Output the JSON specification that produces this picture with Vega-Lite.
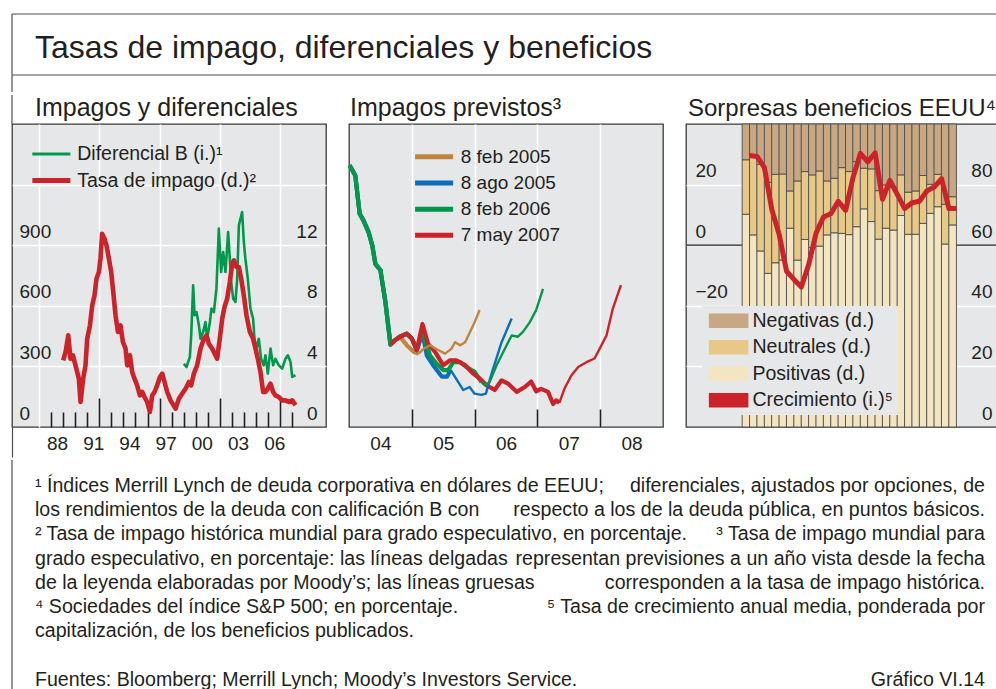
{
  "$schema": "https://vega.github.io/schema/vega-lite/v6.json",
  "padding": {"left": 10, "top": 13, "right": 0, "bottom": 0},
  "background": "white",
  "spacing": 0,
  "resolve": {"scale": {"color": "independent"}, "legend": {"color": "independent"}},
  "config": {
    "font": "Liberation Sans",
    "view": {"stroke": null},
    "axis": {"labelFont": "Liberation Sans", "labelColor": "#231f20", "labelFontSize": 19, "labelFlush": false, "labelOverlap": false, "labelBound": false},
    "legend": {"labelFont": "Liberation Sans", "labelColor": "#231f20", "labelFontSize": 19.5, "labelLimit": 400},
    "title": {"font": "Liberation Sans", "color": "#231f20", "fontWeight": "normal"}
  },
  "datasets": {
    "p1": [
      {"serie": "Diferencial B (i.)¹", "fecha": 1998.51, "valor": 313},
      {"serie": "Diferencial B (i.)¹", "fecha": 1998.73, "valor": 297},
      {"serie": "Diferencial B (i.)¹", "fecha": 1999.01, "valor": 347},
      {"serie": "Diferencial B (i.)¹", "fecha": 1999.12, "valor": 454},
      {"serie": "Diferencial B (i.)¹", "fecha": 1999.28, "valor": 701},
      {"serie": "Diferencial B (i.)¹", "fecha": 1999.40, "valor": 553},
      {"serie": "Diferencial B (i.)¹", "fecha": 1999.56, "valor": 569},
      {"serie": "Diferencial B (i.)¹", "fecha": 1999.76, "valor": 503},
      {"serie": "Diferencial B (i.)¹", "fecha": 1999.89, "valor": 437},
      {"serie": "Diferencial B (i.)¹", "fecha": 2000.11, "valor": 470},
      {"serie": "Diferencial B (i.)¹", "fecha": 2000.30, "valor": 520},
      {"serie": "Diferencial B (i.)¹", "fecha": 2000.44, "valor": 437},
      {"serie": "Diferencial B (i.)¹", "fecha": 2000.67, "valor": 520},
      {"serie": "Diferencial B (i.)¹", "fecha": 2000.80, "valor": 586},
      {"serie": "Diferencial B (i.)¹", "fecha": 2001.00, "valor": 569},
      {"serie": "Diferencial B (i.)¹", "fecha": 2001.21, "valor": 685},
      {"serie": "Diferencial B (i.)¹", "fecha": 2001.41, "valor": 982},
      {"serie": "Diferencial B (i.)¹", "fecha": 2001.60, "valor": 767},
      {"serie": "Diferencial B (i.)¹", "fecha": 2001.77, "valor": 866},
      {"serie": "Diferencial B (i.)¹", "fecha": 2001.96, "valor": 767},
      {"serie": "Diferencial B (i.)¹", "fecha": 2002.18, "valor": 965},
      {"serie": "Diferencial B (i.)¹", "fecha": 2002.32, "valor": 833},
      {"serie": "Diferencial B (i.)¹", "fecha": 2002.43, "valor": 718},
      {"serie": "Diferencial B (i.)¹", "fecha": 2002.60, "valor": 635},
      {"serie": "Diferencial B (i.)¹", "fecha": 2002.79, "valor": 619},
      {"serie": "Diferencial B (i.)¹", "fecha": 2002.93, "valor": 734},
      {"serie": "Diferencial B (i.)¹", "fecha": 2003.07, "valor": 998},
      {"serie": "Diferencial B (i.)¹", "fecha": 2003.20, "valor": 1031},
      {"serie": "Diferencial B (i.)¹", "fecha": 2003.34, "valor": 1064},
      {"serie": "Diferencial B (i.)¹", "fecha": 2003.48, "valor": 916},
      {"serie": "Diferencial B (i.)¹", "fecha": 2003.61, "valor": 833},
      {"serie": "Diferencial B (i.)¹", "fecha": 2003.81, "valor": 734},
      {"serie": "Diferencial B (i.)¹", "fecha": 2004.03, "valor": 586},
      {"serie": "Diferencial B (i.)¹", "fecha": 2004.25, "valor": 536},
      {"serie": "Diferencial B (i.)¹", "fecha": 2004.36, "valor": 437},
      {"serie": "Diferencial B (i.)¹", "fecha": 2004.52, "valor": 388},
      {"serie": "Diferencial B (i.)¹", "fecha": 2004.72, "valor": 437},
      {"serie": "Diferencial B (i.)¹", "fecha": 2004.91, "valor": 338},
      {"serie": "Diferencial B (i.)¹", "fecha": 2005.13, "valor": 305},
      {"serie": "Diferencial B (i.)¹", "fecha": 2005.27, "valor": 355},
      {"serie": "Diferencial B (i.)¹", "fecha": 2005.47, "valor": 264},
      {"serie": "Diferencial B (i.)¹", "fecha": 2005.69, "valor": 388},
      {"serie": "Diferencial B (i.)¹", "fecha": 2005.91, "valor": 305},
      {"serie": "Diferencial B (i.)¹", "fecha": 2006.10, "valor": 338},
      {"serie": "Diferencial B (i.)¹", "fecha": 2006.38, "valor": 305},
      {"serie": "Diferencial B (i.)¹", "fecha": 2006.66, "valor": 289},
      {"serie": "Diferencial B (i.)¹", "fecha": 2006.93, "valor": 338},
      {"serie": "Diferencial B (i.)¹", "fecha": 2007.13, "valor": 355},
      {"serie": "Diferencial B (i.)¹", "fecha": 2007.35, "valor": 322},
      {"serie": "Diferencial B (i.)¹", "fecha": 2007.49, "valor": 248},
      {"serie": "Diferencial B (i.)¹", "fecha": 2007.76, "valor": 256},
      {"serie": "Tasa de impago (d.)²", "fecha": 1988.51, "valor": 4.40},
      {"serie": "Tasa de impago (d.)²", "fecha": 1988.71, "valor": 4.95},
      {"serie": "Tasa de impago (d.)²", "fecha": 1988.93, "valor": 6.05},
      {"serie": "Tasa de impago (d.)²", "fecha": 1989.12, "valor": 4.51},
      {"serie": "Tasa de impago (d.)²", "fecha": 1989.32, "valor": 4.73},
      {"serie": "Tasa de impago (d.)²", "fecha": 1989.53, "valor": 4.07},
      {"serie": "Tasa de impago (d.)²", "fecha": 1989.81, "valor": 3.19},
      {"serie": "Tasa de impago (d.)²", "fecha": 1989.95, "valor": 1.65},
      {"serie": "Tasa de impago (d.)²", "fecha": 1990.17, "valor": 3.19},
      {"serie": "Tasa de impago (d.)²", "fecha": 1990.36, "valor": 4.07},
      {"serie": "Tasa de impago (d.)²", "fecha": 1990.50, "valor": 5.83},
      {"serie": "Tasa de impago (d.)²", "fecha": 1990.73, "valor": 6.71},
      {"serie": "Tasa de impago (d.)²", "fecha": 1990.92, "valor": 8.03},
      {"serie": "Tasa de impago (d.)²", "fecha": 1991.11, "valor": 8.69},
      {"serie": "Tasa de impago (d.)²", "fecha": 1991.27, "valor": 9.79},
      {"serie": "Tasa de impago (d.)²", "fecha": 1991.47, "valor": 10.23},
      {"serie": "Tasa de impago (d.)²", "fecha": 1991.60, "valor": 11.11},
      {"serie": "Tasa de impago (d.)²", "fecha": 1991.74, "valor": 12.76},
      {"serie": "Tasa de impago (d.)²", "fecha": 1991.93, "valor": 12.43},
      {"serie": "Tasa de impago (d.)²", "fecha": 1992.10, "valor": 11.99},
      {"serie": "Tasa de impago (d.)²", "fecha": 1992.30, "valor": 11.11},
      {"serie": "Tasa de impago (d.)²", "fecha": 1992.49, "valor": 10.23},
      {"serie": "Tasa de impago (d.)²", "fecha": 1992.66, "valor": 8.91},
      {"serie": "Tasa de impago (d.)²", "fecha": 1992.85, "valor": 7.37},
      {"serie": "Tasa de impago (d.)²", "fecha": 1993.05, "valor": 6.27},
      {"serie": "Tasa de impago (d.)²", "fecha": 1993.26, "valor": 6.71},
      {"serie": "Tasa de impago (d.)²", "fecha": 1993.46, "valor": 5.61},
      {"serie": "Tasa de impago (d.)²", "fecha": 1993.68, "valor": 5.17},
      {"serie": "Tasa de impago (d.)²", "fecha": 1993.82, "valor": 4.07},
      {"serie": "Tasa de impago (d.)²", "fecha": 1994.04, "valor": 4.73},
      {"serie": "Tasa de impago (d.)²", "fecha": 1994.23, "valor": 3.63},
      {"serie": "Tasa de impago (d.)²", "fecha": 1994.42, "valor": 3.19},
      {"serie": "Tasa de impago (d.)²", "fecha": 1994.64, "valor": 2.75},
      {"serie": "Tasa de impago (d.)²", "fecha": 1994.87, "valor": 2.09},
      {"serie": "Tasa de impago (d.)²", "fecha": 1995.06, "valor": 2.31},
      {"serie": "Tasa de impago (d.)²", "fecha": 1995.25, "valor": 1.98},
      {"serie": "Tasa de impago (d.)²", "fecha": 1995.47, "valor": 1.65},
      {"serie": "Tasa de impago (d.)²", "fecha": 1995.70, "valor": 0.99},
      {"serie": "Tasa de impago (d.)²", "fecha": 1995.89, "valor": 2.09},
      {"serie": "Tasa de impago (d.)²", "fecha": 1996.08, "valor": 2.31},
      {"serie": "Tasa de impago (d.)²", "fecha": 1996.30, "valor": 2.75},
      {"serie": "Tasa de impago (d.)²", "fecha": 1996.53, "valor": 3.30},
      {"serie": "Tasa de impago (d.)²", "fecha": 1996.72, "valor": 3.52},
      {"serie": "Tasa de impago (d.)²", "fecha": 1996.91, "valor": 2.97},
      {"serie": "Tasa de impago (d.)²", "fecha": 1997.13, "valor": 2.31},
      {"serie": "Tasa de impago (d.)²", "fecha": 1997.41, "valor": 1.76},
      {"serie": "Tasa de impago (d.)²", "fecha": 1997.82, "valor": 1.21},
      {"serie": "Tasa de impago (d.)²", "fecha": 1998.10, "valor": 1.87},
      {"serie": "Tasa de impago (d.)²", "fecha": 1998.37, "valor": 2.20},
      {"serie": "Tasa de impago (d.)²", "fecha": 1998.65, "valor": 2.53},
      {"serie": "Tasa de impago (d.)²", "fecha": 1998.93, "valor": 2.97},
      {"serie": "Tasa de impago (d.)²", "fecha": 1999.12, "valor": 2.75},
      {"serie": "Tasa de impago (d.)²", "fecha": 1999.34, "valor": 3.52},
      {"serie": "Tasa de impago (d.)²", "fecha": 1999.61, "valor": 4.07},
      {"serie": "Tasa de impago (d.)²", "fecha": 1999.89, "valor": 5.17},
      {"serie": "Tasa de impago (d.)²", "fecha": 2000.17, "valor": 5.83},
      {"serie": "Tasa de impago (d.)²", "fecha": 2000.39, "valor": 6.05},
      {"serie": "Tasa de impago (d.)²", "fecha": 2000.58, "valor": 5.50},
      {"serie": "Tasa de impago (d.)²", "fecha": 2000.86, "valor": 5.17},
      {"serie": "Tasa de impago (d.)²", "fecha": 2001.13, "valor": 4.73},
      {"serie": "Tasa de impago (d.)²", "fecha": 2001.27, "valor": 4.51},
      {"serie": "Tasa de impago (d.)²", "fecha": 2001.49, "valor": 5.83},
      {"serie": "Tasa de impago (d.)²", "fecha": 2001.69, "valor": 7.15},
      {"serie": "Tasa de impago (d.)²", "fecha": 2001.88, "valor": 7.92},
      {"serie": "Tasa de impago (d.)²", "fecha": 2002.10, "valor": 8.47},
      {"serie": "Tasa de impago (d.)²", "fecha": 2002.32, "valor": 9.57},
      {"serie": "Tasa de impago (d.)²", "fecha": 2002.51, "valor": 10.78},
      {"serie": "Tasa de impago (d.)²", "fecha": 2002.66, "valor": 11.0},
      {"serie": "Tasa de impago (d.)²", "fecha": 2002.87, "valor": 10.56},
      {"serie": "Tasa de impago (d.)²", "fecha": 2003.07, "valor": 10.56},
      {"serie": "Tasa de impago (d.)²", "fecha": 2003.26, "valor": 9.79},
      {"serie": "Tasa de impago (d.)²", "fecha": 2003.48, "valor": 8.69},
      {"serie": "Tasa de impago (d.)²", "fecha": 2003.70, "valor": 7.37},
      {"serie": "Tasa de impago (d.)²", "fecha": 2003.98, "valor": 6.27},
      {"serie": "Tasa de impago (d.)²", "fecha": 2004.25, "valor": 5.83},
      {"serie": "Tasa de impago (d.)²", "fecha": 2004.45, "valor": 5.17},
      {"serie": "Tasa de impago (d.)²", "fecha": 2004.64, "valor": 4.51},
      {"serie": "Tasa de impago (d.)²", "fecha": 2004.86, "valor": 3.63},
      {"serie": "Tasa de impago (d.)²", "fecha": 2005.08, "valor": 2.31},
      {"serie": "Tasa de impago (d.)²", "fecha": 2005.27, "valor": 2.31},
      {"serie": "Tasa de impago (d.)²", "fecha": 2005.47, "valor": 2.53},
      {"serie": "Tasa de impago (d.)²", "fecha": 2005.69, "valor": 2.86},
      {"serie": "Tasa de impago (d.)²", "fecha": 2005.91, "valor": 2.31},
      {"serie": "Tasa de impago (d.)²", "fecha": 2006.10, "valor": 2.09},
      {"serie": "Tasa de impago (d.)²", "fecha": 2006.38, "valor": 1.98},
      {"serie": "Tasa de impago (d.)²", "fecha": 2006.66, "valor": 1.76},
      {"serie": "Tasa de impago (d.)²", "fecha": 2006.93, "valor": 1.76},
      {"serie": "Tasa de impago (d.)²", "fecha": 2007.21, "valor": 1.65},
      {"serie": "Tasa de impago (d.)²", "fecha": 2007.49, "valor": 1.76},
      {"serie": "Tasa de impago (d.)²", "fecha": 2007.76, "valor": 1.43}
    ],
    "p2": [
      {"serie": "8 feb 2005", "tramo": "histórico", "fecha": 2004.01, "valor": 5.32},
      {"serie": "8 feb 2005", "tramo": "histórico", "fecha": 2004.10, "valor": 5.15},
      {"serie": "8 feb 2005", "tramo": "histórico", "fecha": 2004.17, "valor": 4.52},
      {"serie": "8 feb 2005", "tramo": "histórico", "fecha": 2004.23, "valor": 4.41},
      {"serie": "8 feb 2005", "tramo": "histórico", "fecha": 2004.31, "valor": 4.22},
      {"serie": "8 feb 2005", "tramo": "histórico", "fecha": 2004.37, "valor": 4.00},
      {"serie": "8 feb 2005", "tramo": "histórico", "fecha": 2004.42, "valor": 3.69},
      {"serie": "8 feb 2005", "tramo": "histórico", "fecha": 2004.50, "valor": 3.59},
      {"serie": "8 feb 2005", "tramo": "histórico", "fecha": 2004.58, "valor": 3.06},
      {"serie": "8 feb 2005", "tramo": "histórico", "fecha": 2004.66, "valor": 2.36},
      {"serie": "8 feb 2005", "tramo": "histórico", "fecha": 2004.73, "valor": 2.43},
      {"serie": "8 feb 2005", "tramo": "histórico", "fecha": 2004.81, "valor": 2.49},
      {"serie": "8 feb 2005", "tramo": "histórico", "fecha": 2004.92, "valor": 2.35},
      {"serie": "8 feb 2005", "tramo": "histórico", "fecha": 2005.03, "valor": 2.24},
      {"serie": "8 feb 2005", "tramo": "histórico", "fecha": 2005.11, "valor": 2.21},
      {"serie": "8 feb 2005", "tramo": "previsión", "fecha": 2005.11, "valor": 2.21},
      {"serie": "8 feb 2005", "tramo": "previsión", "fecha": 2005.20, "valor": 2.30},
      {"serie": "8 feb 2005", "tramo": "previsión", "fecha": 2005.29, "valor": 2.35},
      {"serie": "8 feb 2005", "tramo": "previsión", "fecha": 2005.42, "valor": 2.27},
      {"serie": "8 feb 2005", "tramo": "previsión", "fecha": 2005.53, "valor": 2.21},
      {"serie": "8 feb 2005", "tramo": "previsión", "fecha": 2005.63, "valor": 2.29},
      {"serie": "8 feb 2005", "tramo": "previsión", "fecha": 2005.69, "valor": 2.40},
      {"serie": "8 feb 2005", "tramo": "previsión", "fecha": 2005.77, "valor": 2.35},
      {"serie": "8 feb 2005", "tramo": "previsión", "fecha": 2005.85, "valor": 2.40},
      {"serie": "8 feb 2005", "tramo": "previsión", "fecha": 2005.90, "valor": 2.51},
      {"serie": "8 feb 2005", "tramo": "previsión", "fecha": 2006.00, "valor": 2.73},
      {"serie": "8 feb 2005", "tramo": "previsión", "fecha": 2006.08, "valor": 2.93},
      {"serie": "8 ago 2005", "tramo": "histórico", "fecha": 2004.01, "valor": 5.32},
      {"serie": "8 ago 2005", "tramo": "histórico", "fecha": 2004.10, "valor": 5.15},
      {"serie": "8 ago 2005", "tramo": "histórico", "fecha": 2004.17, "valor": 4.52},
      {"serie": "8 ago 2005", "tramo": "histórico", "fecha": 2004.23, "valor": 4.41},
      {"serie": "8 ago 2005", "tramo": "histórico", "fecha": 2004.31, "valor": 4.22},
      {"serie": "8 ago 2005", "tramo": "histórico", "fecha": 2004.37, "valor": 4.00},
      {"serie": "8 ago 2005", "tramo": "histórico", "fecha": 2004.42, "valor": 3.69},
      {"serie": "8 ago 2005", "tramo": "histórico", "fecha": 2004.50, "valor": 3.59},
      {"serie": "8 ago 2005", "tramo": "histórico", "fecha": 2004.58, "valor": 3.06},
      {"serie": "8 ago 2005", "tramo": "histórico", "fecha": 2004.66, "valor": 2.36},
      {"serie": "8 ago 2005", "tramo": "histórico", "fecha": 2004.73, "valor": 2.43},
      {"serie": "8 ago 2005", "tramo": "histórico", "fecha": 2004.81, "valor": 2.49},
      {"serie": "8 ago 2005", "tramo": "histórico", "fecha": 2004.92, "valor": 2.54},
      {"serie": "8 ago 2005", "tramo": "histórico", "fecha": 2005.00, "valor": 2.46},
      {"serie": "8 ago 2005", "tramo": "histórico", "fecha": 2005.08, "valor": 2.27},
      {"serie": "8 ago 2005", "tramo": "histórico", "fecha": 2005.17, "valor": 2.55},
      {"serie": "8 ago 2005", "tramo": "histórico", "fecha": 2005.24, "valor": 2.18},
      {"serie": "8 ago 2005", "tramo": "histórico", "fecha": 2005.34, "valor": 2.02},
      {"serie": "8 ago 2005", "tramo": "histórico", "fecha": 2005.48, "valor": 1.83},
      {"serie": "8 ago 2005", "tramo": "histórico", "fecha": 2005.56, "valor": 1.83},
      {"serie": "8 ago 2005", "tramo": "histórico", "fecha": 2005.62, "valor": 1.94},
      {"serie": "8 ago 2005", "tramo": "previsión", "fecha": 2005.62, "valor": 1.94},
      {"serie": "8 ago 2005", "tramo": "previsión", "fecha": 2005.74, "valor": 1.74},
      {"serie": "8 ago 2005", "tramo": "previsión", "fecha": 2005.82, "valor": 1.61},
      {"serie": "8 ago 2005", "tramo": "previsión", "fecha": 2005.92, "valor": 1.66},
      {"serie": "8 ago 2005", "tramo": "previsión", "fecha": 2006.00, "valor": 1.55},
      {"serie": "8 ago 2005", "tramo": "previsión", "fecha": 2006.11, "valor": 1.53},
      {"serie": "8 ago 2005", "tramo": "previsión", "fecha": 2006.18, "valor": 1.55},
      {"serie": "8 ago 2005", "tramo": "previsión", "fecha": 2006.27, "valor": 1.88},
      {"serie": "8 ago 2005", "tramo": "previsión", "fecha": 2006.43, "valor": 2.40},
      {"serie": "8 ago 2005", "tramo": "previsión", "fecha": 2006.59, "valor": 2.79},
      {"serie": "8 feb 2006", "tramo": "histórico", "fecha": 2004.01, "valor": 5.32},
      {"serie": "8 feb 2006", "tramo": "histórico", "fecha": 2004.10, "valor": 5.15},
      {"serie": "8 feb 2006", "tramo": "histórico", "fecha": 2004.17, "valor": 4.52},
      {"serie": "8 feb 2006", "tramo": "histórico", "fecha": 2004.23, "valor": 4.41},
      {"serie": "8 feb 2006", "tramo": "histórico", "fecha": 2004.31, "valor": 4.22},
      {"serie": "8 feb 2006", "tramo": "histórico", "fecha": 2004.37, "valor": 4.00},
      {"serie": "8 feb 2006", "tramo": "histórico", "fecha": 2004.42, "valor": 3.69},
      {"serie": "8 feb 2006", "tramo": "histórico", "fecha": 2004.50, "valor": 3.59},
      {"serie": "8 feb 2006", "tramo": "histórico", "fecha": 2004.58, "valor": 3.06},
      {"serie": "8 feb 2006", "tramo": "histórico", "fecha": 2004.66, "valor": 2.36},
      {"serie": "8 feb 2006", "tramo": "histórico", "fecha": 2004.73, "valor": 2.43},
      {"serie": "8 feb 2006", "tramo": "histórico", "fecha": 2004.81, "valor": 2.49},
      {"serie": "8 feb 2006", "tramo": "histórico", "fecha": 2004.92, "valor": 2.54},
      {"serie": "8 feb 2006", "tramo": "histórico", "fecha": 2005.00, "valor": 2.46},
      {"serie": "8 feb 2006", "tramo": "histórico", "fecha": 2005.08, "valor": 2.27},
      {"serie": "8 feb 2006", "tramo": "histórico", "fecha": 2005.17, "valor": 2.57},
      {"serie": "8 feb 2006", "tramo": "histórico", "fecha": 2005.29, "valor": 2.18},
      {"serie": "8 feb 2006", "tramo": "histórico", "fecha": 2005.40, "valor": 2.04},
      {"serie": "8 feb 2006", "tramo": "histórico", "fecha": 2005.50, "valor": 1.94},
      {"serie": "8 feb 2006", "tramo": "histórico", "fecha": 2005.58, "valor": 1.94},
      {"serie": "8 feb 2006", "tramo": "histórico", "fecha": 2005.66, "valor": 2.07},
      {"serie": "8 feb 2006", "tramo": "histórico", "fecha": 2005.77, "valor": 2.07},
      {"serie": "8 feb 2006", "tramo": "histórico", "fecha": 2005.87, "valor": 1.99},
      {"serie": "8 feb 2006", "tramo": "histórico", "fecha": 2006.00, "valor": 1.91},
      {"serie": "8 feb 2006", "tramo": "histórico", "fecha": 2006.11, "valor": 1.74},
      {"serie": "8 feb 2006", "tramo": "previsión", "fecha": 2006.11, "valor": 1.74},
      {"serie": "8 feb 2006", "tramo": "previsión", "fecha": 2006.16, "valor": 1.69},
      {"serie": "8 feb 2006", "tramo": "previsión", "fecha": 2006.24, "valor": 1.74},
      {"serie": "8 feb 2006", "tramo": "previsión", "fecha": 2006.35, "valor": 2.02},
      {"serie": "8 feb 2006", "tramo": "previsión", "fecha": 2006.51, "valor": 2.35},
      {"serie": "8 feb 2006", "tramo": "previsión", "fecha": 2006.59, "valor": 2.51},
      {"serie": "8 feb 2006", "tramo": "previsión", "fecha": 2006.69, "valor": 2.49},
      {"serie": "8 feb 2006", "tramo": "previsión", "fecha": 2006.77, "valor": 2.57},
      {"serie": "8 feb 2006", "tramo": "previsión", "fecha": 2006.88, "valor": 2.73},
      {"serie": "8 feb 2006", "tramo": "previsión", "fecha": 2006.98, "valor": 2.93},
      {"serie": "8 feb 2006", "tramo": "previsión", "fecha": 2007.09, "valor": 3.28},
      {"serie": "7 may 2007", "tramo": "histórico", "fecha": 2004.66, "valor": 2.36},
      {"serie": "7 may 2007", "tramo": "histórico", "fecha": 2004.73, "valor": 2.43},
      {"serie": "7 may 2007", "tramo": "histórico", "fecha": 2004.81, "valor": 2.49},
      {"serie": "7 may 2007", "tramo": "histórico", "fecha": 2004.92, "valor": 2.54},
      {"serie": "7 may 2007", "tramo": "histórico", "fecha": 2005.00, "valor": 2.46},
      {"serie": "7 may 2007", "tramo": "histórico", "fecha": 2005.08, "valor": 2.27},
      {"serie": "7 may 2007", "tramo": "histórico", "fecha": 2005.17, "valor": 2.70},
      {"serie": "7 may 2007", "tramo": "histórico", "fecha": 2005.26, "valor": 2.37},
      {"serie": "7 may 2007", "tramo": "histórico", "fecha": 2005.37, "valor": 2.24},
      {"serie": "7 may 2007", "tramo": "histórico", "fecha": 2005.50, "valor": 2.02},
      {"serie": "7 may 2007", "tramo": "histórico", "fecha": 2005.61, "valor": 2.10},
      {"serie": "7 may 2007", "tramo": "histórico", "fecha": 2005.71, "valor": 2.10},
      {"serie": "7 may 2007", "tramo": "histórico", "fecha": 2005.85, "valor": 2.02},
      {"serie": "7 may 2007", "tramo": "histórico", "fecha": 2005.98, "valor": 1.88},
      {"serie": "7 may 2007", "tramo": "histórico", "fecha": 2006.08, "valor": 1.80},
      {"serie": "7 may 2007", "tramo": "histórico", "fecha": 2006.19, "valor": 1.69},
      {"serie": "7 may 2007", "tramo": "histórico", "fecha": 2006.32, "valor": 1.61},
      {"serie": "7 may 2007", "tramo": "histórico", "fecha": 2006.43, "valor": 1.77},
      {"serie": "7 may 2007", "tramo": "histórico", "fecha": 2006.54, "valor": 1.71},
      {"serie": "7 may 2007", "tramo": "histórico", "fecha": 2006.67, "valor": 1.58},
      {"serie": "7 may 2007", "tramo": "histórico", "fecha": 2006.80, "valor": 1.66},
      {"serie": "7 may 2007", "tramo": "histórico", "fecha": 2006.90, "valor": 1.75},
      {"serie": "7 may 2007", "tramo": "histórico", "fecha": 2006.98, "valor": 1.59},
      {"serie": "7 may 2007", "tramo": "histórico", "fecha": 2007.06, "valor": 1.63},
      {"serie": "7 may 2007", "tramo": "histórico", "fecha": 2007.17, "valor": 1.58},
      {"serie": "7 may 2007", "tramo": "histórico", "fecha": 2007.25, "valor": 1.38},
      {"serie": "7 may 2007", "tramo": "histórico", "fecha": 2007.30, "valor": 1.44},
      {"serie": "7 may 2007", "tramo": "histórico", "fecha": 2007.35, "valor": 1.40},
      {"serie": "7 may 2007", "tramo": "previsión", "fecha": 2007.35, "valor": 1.40},
      {"serie": "7 may 2007", "tramo": "previsión", "fecha": 2007.43, "valor": 1.63},
      {"serie": "7 may 2007", "tramo": "previsión", "fecha": 2007.54, "valor": 1.85},
      {"serie": "7 may 2007", "tramo": "previsión", "fecha": 2007.65, "valor": 1.99},
      {"serie": "7 may 2007", "tramo": "previsión", "fecha": 2007.78, "valor": 2.07},
      {"serie": "7 may 2007", "tramo": "previsión", "fecha": 2007.91, "valor": 2.13},
      {"serie": "7 may 2007", "tramo": "previsión", "fecha": 2007.99, "valor": 2.29},
      {"serie": "7 may 2007", "tramo": "previsión", "fecha": 2008.10, "valor": 2.51},
      {"serie": "7 may 2007", "tramo": "previsión", "fecha": 2008.20, "valor": 2.95},
      {"serie": "7 may 2007", "tramo": "previsión", "fecha": 2008.33, "valor": 3.34}
    ],
    "p3b": [
      {"t": 2000.125, "serie": "Positivas (d.)", "valor": 70.2}, {"t": 2000.125, "serie": "Neutrales (d.)", "valor": 18.0}, {"t": 2000.125, "serie": "Negativas (d.)", "valor": 11.8},
      {"t": 2000.375, "serie": "Positivas (d.)", "valor": 63.4}, {"t": 2000.375, "serie": "Neutrales (d.)", "valor": 25.9}, {"t": 2000.375, "serie": "Negativas (d.)", "valor": 10.7},
      {"t": 2000.625, "serie": "Positivas (d.)", "valor": 58.1}, {"t": 2000.625, "serie": "Neutrales (d.)", "valor": 28.6}, {"t": 2000.625, "serie": "Negativas (d.)", "valor": 13.3},
      {"t": 2000.875, "serie": "Positivas (d.)", "valor": 50.7}, {"t": 2000.875, "serie": "Neutrales (d.)", "valor": 30.0}, {"t": 2000.875, "serie": "Negativas (d.)", "valor": 19.3},
      {"t": 2001.125, "serie": "Positivas (d.)", "valor": 54.2}, {"t": 2001.125, "serie": "Neutrales (d.)", "valor": 29.2}, {"t": 2001.125, "serie": "Negativas (d.)", "valor": 16.6},
      {"t": 2001.375, "serie": "Positivas (d.)", "valor": 55.1}, {"t": 2001.375, "serie": "Neutrales (d.)", "valor": 28.4}, {"t": 2001.375, "serie": "Negativas (d.)", "valor": 16.5},
      {"t": 2001.625, "serie": "Positivas (d.)", "valor": 65.6}, {"t": 2001.625, "serie": "Neutrales (d.)", "valor": 12.3}, {"t": 2001.625, "serie": "Negativas (d.)", "valor": 22.1},
      {"t": 2001.875, "serie": "Positivas (d.)", "valor": 55.1}, {"t": 2001.875, "serie": "Neutrales (d.)", "valor": 26.1}, {"t": 2001.875, "serie": "Negativas (d.)", "valor": 18.8},
      {"t": 2002.125, "serie": "Positivas (d.)", "valor": 61.9}, {"t": 2002.125, "serie": "Neutrales (d.)", "valor": 22.4}, {"t": 2002.125, "serie": "Negativas (d.)", "valor": 15.7},
      {"t": 2002.375, "serie": "Positivas (d.)", "valor": 59.2}, {"t": 2002.375, "serie": "Neutrales (d.)", "valor": 24.0}, {"t": 2002.375, "serie": "Negativas (d.)", "valor": 16.8},
      {"t": 2002.625, "serie": "Positivas (d.)", "valor": 59.7}, {"t": 2002.625, "serie": "Neutrales (d.)", "valor": 24.8}, {"t": 2002.625, "serie": "Negativas (d.)", "valor": 15.5},
      {"t": 2002.875, "serie": "Positivas (d.)", "valor": 63.4}, {"t": 2002.875, "serie": "Neutrales (d.)", "valor": 17.8}, {"t": 2002.875, "serie": "Negativas (d.)", "valor": 18.8},
      {"t": 2003.125, "serie": "Positivas (d.)", "valor": 64.1}, {"t": 2003.125, "serie": "Neutrales (d.)", "valor": 18.0}, {"t": 2003.125, "serie": "Negativas (d.)", "valor": 17.9},
      {"t": 2003.375, "serie": "Positivas (d.)", "valor": 63.9}, {"t": 2003.375, "serie": "Neutrales (d.)", "valor": 21.7}, {"t": 2003.375, "serie": "Negativas (d.)", "valor": 14.4},
      {"t": 2003.625, "serie": "Positivas (d.)", "valor": 63.5}, {"t": 2003.625, "serie": "Neutrales (d.)", "valor": 20.8}, {"t": 2003.625, "serie": "Negativas (d.)", "valor": 15.7},
      {"t": 2003.875, "serie": "Positivas (d.)", "valor": 66.1}, {"t": 2003.875, "serie": "Neutrales (d.)", "valor": 21.5}, {"t": 2003.875, "serie": "Negativas (d.)", "valor": 12.4},
      {"t": 2004.125, "serie": "Positivas (d.)", "valor": 72.0}, {"t": 2004.125, "serie": "Neutrales (d.)", "valor": 13.4}, {"t": 2004.125, "serie": "Negativas (d.)", "valor": 14.6},
      {"t": 2004.375, "serie": "Positivas (d.)", "valor": 67.8}, {"t": 2004.375, "serie": "Neutrales (d.)", "valor": 17.4}, {"t": 2004.375, "serie": "Negativas (d.)", "valor": 14.8},
      {"t": 2004.625, "serie": "Positivas (d.)", "valor": 62.0}, {"t": 2004.625, "serie": "Neutrales (d.)", "valor": 16.0}, {"t": 2004.625, "serie": "Negativas (d.)", "valor": 22.0},
      {"t": 2004.875, "serie": "Positivas (d.)", "valor": 65.6}, {"t": 2004.875, "serie": "Neutrales (d.)", "valor": 14.3}, {"t": 2004.875, "serie": "Negativas (d.)", "valor": 20.1},
      {"t": 2005.125, "serie": "Positivas (d.)", "valor": 65.0}, {"t": 2005.125, "serie": "Neutrales (d.)", "valor": 14.0}, {"t": 2005.125, "serie": "Negativas (d.)", "valor": 21.0},
      {"t": 2005.375, "serie": "Positivas (d.)", "valor": 69.8}, {"t": 2005.375, "serie": "Neutrales (d.)", "valor": 13.4}, {"t": 2005.375, "serie": "Negativas (d.)", "valor": 16.8},
      {"t": 2005.625, "serie": "Positivas (d.)", "valor": 63.6}, {"t": 2005.625, "serie": "Neutrales (d.)", "valor": 13.9}, {"t": 2005.625, "serie": "Negativas (d.)", "valor": 22.5},
      {"t": 2005.875, "serie": "Positivas (d.)", "valor": 63.6}, {"t": 2005.875, "serie": "Neutrales (d.)", "valor": 14.3}, {"t": 2005.875, "serie": "Negativas (d.)", "valor": 22.1},
      {"t": 2006.125, "serie": "Positivas (d.)", "valor": 67.2}, {"t": 2006.125, "serie": "Neutrales (d.)", "valor": 15.8}, {"t": 2006.125, "serie": "Negativas (d.)", "valor": 17.0},
      {"t": 2006.375, "serie": "Positivas (d.)", "valor": 70.5}, {"t": 2006.375, "serie": "Neutrales (d.)", "valor": 9.6}, {"t": 2006.375, "serie": "Negativas (d.)", "valor": 19.9},
      {"t": 2006.625, "serie": "Positivas (d.)", "valor": 72.7}, {"t": 2006.625, "serie": "Neutrales (d.)", "valor": 10.7}, {"t": 2006.625, "serie": "Negativas (d.)", "valor": 16.6},
      {"t": 2006.875, "serie": "Positivas (d.)", "valor": 60.4}, {"t": 2006.875, "serie": "Neutrales (d.)", "valor": 13.1}, {"t": 2006.875, "serie": "Negativas (d.)", "valor": 26.5},
      {"t": 2007.125, "serie": "Positivas (d.)", "valor": 66.7}, {"t": 2007.125, "serie": "Neutrales (d.)", "valor": 9.3}, {"t": 2007.125, "serie": "Negativas (d.)", "valor": 24.0}
    ],
    "p3l": [
      {"t": 2000.25, "serie": "Crecimiento (i.)⁵", "valor": 29.6},
      {"t": 2000.5, "serie": "Crecimiento (i.)⁵", "valor": 29.3},
      {"t": 2000.75, "serie": "Crecimiento (i.)⁵", "valor": 25.6},
      {"t": 2001.0, "serie": "Crecimiento (i.)⁵", "valor": 11.8},
      {"t": 2001.25, "serie": "Crecimiento (i.)⁵", "valor": 3.5},
      {"t": 2001.5, "serie": "Crecimiento (i.)⁵", "valor": -8.6},
      {"t": 2001.75, "serie": "Crecimiento (i.)⁵", "valor": -11.3},
      {"t": 2002.0, "serie": "Crecimiento (i.)⁵", "valor": -13.8},
      {"t": 2002.25, "serie": "Crecimiento (i.)⁵", "valor": -6.4},
      {"t": 2002.5, "serie": "Crecimiento (i.)⁵", "valor": 4.0},
      {"t": 2002.75, "serie": "Crecimiento (i.)⁵", "valor": 9.3},
      {"t": 2003.0, "serie": "Crecimiento (i.)⁵", "valor": 10.4},
      {"t": 2003.25, "serie": "Crecimiento (i.)⁵", "valor": 14.5},
      {"t": 2003.5, "serie": "Crecimiento (i.)⁵", "valor": 11.5},
      {"t": 2003.75, "serie": "Crecimiento (i.)⁵", "valor": 22.3},
      {"t": 2004.0, "serie": "Crecimiento (i.)⁵", "valor": 30.3},
      {"t": 2004.25, "serie": "Crecimiento (i.)⁵", "valor": 27.5},
      {"t": 2004.5, "serie": "Crecimiento (i.)⁵", "valor": 30.5},
      {"t": 2004.75, "serie": "Crecimiento (i.)⁵", "valor": 15.1},
      {"t": 2005.0, "serie": "Crecimiento (i.)⁵", "valor": 21.4},
      {"t": 2005.25, "serie": "Crecimiento (i.)⁵", "valor": 16.8},
      {"t": 2005.5, "serie": "Crecimiento (i.)⁵", "valor": 12.1},
      {"t": 2005.75, "serie": "Crecimiento (i.)⁵", "valor": 14.0},
      {"t": 2006.0, "serie": "Crecimiento (i.)⁵", "valor": 14.5},
      {"t": 2006.25, "serie": "Crecimiento (i.)⁵", "valor": 17.9},
      {"t": 2006.5, "serie": "Crecimiento (i.)⁵", "valor": 19.2},
      {"t": 2006.75, "serie": "Crecimiento (i.)⁵", "valor": 22.0},
      {"t": 2007.0, "serie": "Crecimiento (i.)⁵", "valor": 12.1},
      {"t": 2007.25, "serie": "Crecimiento (i.)⁵", "valor": 12.1}
    ],
    "notas": [
      {"linea": 1, "parte": "inicio", "texto": "¹ Índices Merrill Lynch de deuda corporativa en dólares de EEUU;"},
      {"linea": 1, "parte": "fin", "texto": "diferenciales, ajustados por opciones, de"},
      {"linea": 2, "parte": "inicio", "texto": "los rendimientos de la deuda con calificación B con"},
      {"linea": 2, "parte": "fin", "texto": "respecto a los de la deuda pública, en puntos básicos."},
      {"linea": 3, "parte": "inicio", "texto": "² Tasa de impago histórica mundial para grado especulativo, en porcentaje."},
      {"linea": 3, "parte": "fin", "texto": "³ Tasa de impago mundial para"},
      {"linea": 4, "parte": "inicio", "texto": "grado especulativo, en porcentaje: las líneas delgadas"},
      {"linea": 4, "parte": "fin", "texto": "representan previsiones a un año vista desde la fecha"},
      {"linea": 5, "parte": "inicio", "texto": "de la leyenda elaboradas por Moody’s; las líneas gruesas"},
      {"linea": 5, "parte": "fin", "texto": "corresponden a la tasa de impago  histórica."},
      {"linea": 6, "parte": "inicio", "texto": "⁴ Sociedades del índice S&P 500; en porcentaje."},
      {"linea": 6, "parte": "fin", "texto": "⁵ Tasa de crecimiento anual media, ponderada por"},
      {"linea": 7, "parte": "inicio", "texto": "capitalización, de los beneficios publicados."},
      {"linea": 9, "parte": "inicio", "texto": "Fuentes: Bloomberg; Merrill Lynch; Moody’s Investors Service."},
      {"linea": 9, "parte": "fin", "texto": "Gráfico VI.14"}
    ]
  },
  "vconcat": [
    {
      "width": 986,
      "height": 78,
      "view": {"stroke": null},
      "data": {"values": [{"titulo": "Tasas de impago, diferenciales y beneficios"}]},
      "layer": [
        {
          "mark": {"type": "rule", "color": "#4d4d4d", "strokeWidth": 1.2},
          "encoding": {"y": {"datum": 0, "type": "quantitative", "scale": {"domain": [0, 78], "reverse": true, "nice": false, "zero": false}, "axis": null}}
        },
        {
          "mark": {"type": "rule", "color": "#4d4d4d", "strokeWidth": 1.2},
          "encoding": {"y": {"datum": 61, "type": "quantitative", "axis": null}}
        },
        {
          "mark": {"type": "rule", "color": "#4d4d4d", "strokeWidth": 1.2},
          "encoding": {"x": {"datum": 0, "type": "quantitative", "scale": {"domain": [0, 1], "nice": false, "zero": false}, "axis": null}}
        },
        {
          "mark": {"type": "text", "align": "left", "baseline": "alphabetic", "dx": 23, "fontSize": 32, "color": "#231f20", "font": "Liberation Sans"},
          "encoding": {
            "x": {"datum": 0, "type": "quantitative", "axis": null},
            "y": {"datum": 44, "type": "quantitative", "axis": null},
            "text": {"field": "titulo", "type": "nominal"}
          }
        }
      ]
    },
    {
      "hconcat": [
        {
          "width": 314,
          "height": 303,
          "view": {"fill": "#e6e7e8", "stroke": "#3a3a3a", "strokeWidth": 1.3},
          "title": {"text": "Impagos y diferenciales", "anchor": "start", "frame": "group", "orient": "top", "offset": -46, "baseline": "alphabetic", "dx": 23, "fontSize": 25},
          "data": {"name": "p1"},
          "layer": [
            {
              "transform": [{"filter": "datum.serie === 'Diferencial B (i.)¹'"}],
              "mark": {"type": "line", "strokeWidth": 2.6, "strokeJoin": "round"},
              "encoding": {
                "x": {"field": "fecha", "type": "quantitative",
                  "scale": {"domain": [1984.27, 2010.29], "nice": false, "zero": false},
                  "axis": {"orient": "bottom", "values": [1986.5, 1987.5, 1988.5, 1989.5, 1990.5, 1991.5, 1992.5, 1993.5, 1994.5, 1995.5, 1996.5, 1997.5, 1998.5, 1999.5, 2000.5, 2001.5, 2002.5, 2003.5, 2004.5, 2005.5, 2006.5, 2007.5],
                    "labels": false, "domain": false, "title": null,
                    "ticks": true, "tickColor": "#231f20", "tickWidth": 1.6,
                    "tickSize": {"condition": {"test": "(datum.value - 1986.5) % 5 === 0", "value": -29}, "value": -15},
                    "tickOpacity": {"condition": {"test": "datum.value < 1987", "value": 0}, "value": 1},
                    "grid": true, "gridColor": "#ffffff", "gridWidth": 1.6,
                    "gridOpacity": {"condition": {"test": "(datum.value - 1986.5) % 5 === 0", "value": 1}, "value": 0}}},
                "y": {"field": "valor", "type": "quantitative",
                  "scale": {"domain": [0, 1500], "nice": false, "zero": false},
                  "axis": {"orient": "left", "values": [0, 300, 600, 900, 1200], "labelExpr": "datum.value > 1000 ? '' : datum.label",
                    "domain": false, "ticks": false, "tickSize": 0, "labelAlign": "left", "labelPadding": -7, "labelBaseline": "alphabetic", "labelOffset": -8,
                    "grid": true, "gridColor": "#ffffff", "gridWidth": 1.6,
                    "gridOpacity": {"condition": {"test": "datum.value === 0", "value": 0}, "value": 1}, "title": null}},
                "color": {"field": "serie", "type": "nominal",
                  "scale": {"domain": ["Diferencial B (i.)¹", "Tasa de impago (d.)²"], "range": ["#00994c", "#cc2229"]},
                  "legend": {"orient": "none", "legendX": 17.75, "legendY": 20.25, "title": null, "padding": 0,
                    "symbolType": "M-1.1,0H4.75", "symbolSize": 169, "labelFontSize": 19.5, "labelOffset": 28, "rowPadding": 5.5,
                    "encode": {"symbols": {"update": {"strokeWidth": {"signal": "datum.value === 'Tasa de impago (d.)²' ? 5 : 3"}, "opacity": {"value": 1}}}}}}
              }
            },
            {
              "transform": [{"filter": "datum.serie === 'Tasa de impago (d.)²'"}],
              "mark": {"type": "line", "strokeWidth": 4.6, "strokeJoin": "round"},
              "encoding": {
                "x": {"field": "fecha", "type": "quantitative",
                  "scale": {"domain": [1984.27, 2010.29], "nice": false, "zero": false},
                  "axis": {"orient": "bottom", "values": [1984.27, 1988, 1991, 1994, 1997, 2000, 2003, 2006], "format": "d", "labelExpr": "datum.value < 1985 ? '' : slice(datum.label, -2)",
                    "ticks": true, "tickSize": 30, "tickColor": "#4d4d4d", "tickWidth": 1.2,
                    "tickOpacity": {"condition": {"test": "datum.value < 1985", "value": 1}, "value": 0},
                    "domain": false, "grid": false, "labelPadding": -23, "labelBaseline": "top", "title": null}},
                "y": {"field": "valor", "type": "quantitative",
                  "scale": {"domain": [0, 20], "nice": false, "zero": false},
                  "axis": {"orient": "right", "values": [0, 4, 8, 12], "domain": false, "ticks": false, "tickSize": 0, "labelAlign": "right", "labelPadding": -9, "labelBaseline": "alphabetic", "labelOffset": -8, "grid": false, "title": null}},
                "color": {"field": "serie", "type": "nominal"}
              }
            },
            {
              "data": {"values": [{}]},
              "mark": {"type": "rule", "color": "#4d4d4d", "strokeWidth": 1.2},
              "encoding": {
                "x": {"datum": 1984.27, "type": "quantitative", "axis": null},
                "y": {"datum": 1500, "type": "quantitative", "scale": {"domain": [0, 1500], "nice": false, "zero": false}, "axis": null},
                "y2": {"datum": 1643}
              }
            }
          ],
          "resolve": {"scale": {"y": "independent"}, "axis": {"x": "independent"}}
        },
        {
          "width": 314,
          "height": 303,
          "view": {"fill": "#e6e7e8", "stroke": "#3a3a3a", "strokeWidth": 1.3},
          "title": {"text": "Impagos previstos³", "anchor": "start", "frame": "group", "orient": "top", "offset": -17, "baseline": "alphabetic", "dx": 1, "fontSize": 25},
          "data": {"name": "p2"},
          "layer": [
            {
              "transform": [{"filter": "datum.tramo === 'histórico'"}],
              "mark": {"type": "line", "strokeWidth": 4.2, "strokeJoin": "round"},
              "encoding": {
                "x": {"field": "fecha", "type": "quantitative",
                  "scale": {"domain": [2004, 2009], "nice": false, "zero": false},
                  "axis": {"orient": "bottom", "values": [2005, 2006, 2007, 2008], "labels": false, "domain": false, "ticks": true, "tickSize": -18, "tickColor": "#231f20", "tickWidth": 1.6, "grid": true, "gridColor": "#ffffff", "gridWidth": 1.6, "title": null}},
                "y": {"field": "valor", "type": "quantitative",
                  "scale": {"domain": [1, 6], "nice": false, "zero": false},
                  "axis": {"orient": "right", "values": [1, 2, 3, 4, 5], "domain": false, "ticks": false, "tickSize": 0, "labelAlign": "right", "labelPadding": -9, "labelBaseline": "alphabetic", "labelOffset": -8,
                    "grid": true, "gridColor": "#ffffff", "gridWidth": 1.6, "gridOpacity": {"condition": {"test": "datum.value === 1", "value": 0}, "value": 1}, "title": null}},
                "color": {"field": "serie", "type": "nominal",
                  "scale": {"domain": ["8 feb 2005", "8 ago 2005", "8 feb 2006", "7 may 2007"], "range": ["#c2843c", "#0a6ebd", "#00994c", "#cc2229"]},
                  "legend": {"orient": "none", "legendX": 63.75, "legendY": 23.25, "title": null, "padding": 0,
                    "symbolType": "M-1.1,0H4.75", "symbolSize": 169, "labelFontSize": 19, "labelOffset": 29, "rowPadding": 5.2,
                    "encode": {"symbols": {"update": {"strokeWidth": {"value": 5}, "opacity": {"value": 1}}}}}}
              }
            },
            {
              "transform": [{"filter": "datum.tramo === 'previsión'"}],
              "mark": {"type": "line", "strokeWidth": 2.4, "strokeJoin": "round"},
              "encoding": {
                "x": {"field": "fecha", "type": "quantitative",
                  "scale": {"domain": [2004, 2009], "nice": false, "zero": false},
                  "axis": {"orient": "bottom", "values": [2004.5, 2005.5, 2006.5, 2007.5, 2008.5], "labelExpr": "slice(toString(floor(datum.value)), -2)", "ticks": false, "tickSize": 0, "domain": false, "grid": false, "labelPadding": 7, "labelBaseline": "top", "title": null}},
                "y": {"field": "valor", "type": "quantitative", "axis": null},
                "color": {"field": "serie", "type": "nominal"}
              }
            }
          ],
          "resolve": {"axis": {"x": "independent"}}
        },
        {
          "width": 312,
          "height": 303,
          "view": {"fill": "#e6e7e8", "stroke": "#3a3a3a", "strokeWidth": 1.3},
          "title": {"text": "Sorpresas beneficios EEUU⁴", "anchor": "start", "frame": "group", "orient": "top", "offset": -16, "baseline": "alphabetic", "dx": 2, "fontSize": 24},
          "layer": [
            {
              "data": {"values": [{}]},
              "mark": {"type": "rule", "color": "#231f20", "strokeWidth": 1.3},
              "encoding": {
                "y": {"datum": 0, "type": "quantitative", "scale": {"domain": [-60, 40], "nice": false, "zero": false}, "axis": null}
              }
            },
            {
              "data": {"name": "p3b"},
              "mark": {"type": "bar", "width": 7.62, "stroke": "#4d4d4d", "strokeWidth": 0.9},
              "encoding": {
                "x": {"field": "t", "type": "quantitative",
                  "scale": {"domain": [1998.263, 2008.492], "nice": false, "zero": false},
                  "axis": {"orient": "bottom", "values": [2000.125, 2002.125, 2004.125, 2006.125], "labelExpr": "slice(toString(floor(datum.value)), -2)", "ticks": false, "tickSize": 0, "domain": false, "grid": false, "labelPadding": 7, "labelBaseline": "top", "title": null}},
                "y": {"field": "valor", "type": "quantitative", "stack": "zero",
                  "scale": {"domain": [0, 100], "nice": false, "zero": false},
                  "axis": {"orient": "right", "values": [0, 20, 40, 60, 80], "domain": false, "ticks": false, "tickSize": 0, "labelAlign": "right", "labelPadding": -6, "labelBaseline": "alphabetic", "labelOffset": -8,
                    "grid": true, "gridColor": "#ffffff", "gridWidth": 1.6, "gridOpacity": {"condition": {"test": "datum.value === 0", "value": 0}, "value": 1}, "title": null}},
                "color": {"field": "serie", "type": "nominal",
                  "scale": {"domain": ["Negativas (d.)", "Neutrales (d.)", "Positivas (d.)", "Crecimiento (i.)⁵"], "range": ["#c8a882", "#e6c888", "#f3e5c2", "#cc2229"]},
                  "legend": {"orient": "none", "legendX": 16, "legendY": 182, "title": null, "padding": 5, "fillColor": "#e6e7e8",
                    "symbolType": "M-1.1,-1H4.75V1H-1.1Z", "symbolSize": 169, "labelFontSize": 19.5, "labelOffset": 26, "rowPadding": 5.5,
                    "encode": {"symbols": {"update": {
                      "shape": {"signal": "datum.value === 'Crecimiento (i.)⁵' ? 'M-1.1,0H4.75' : 'M-1.1,-1H4.75V1H-1.1Z'"},
                      "fill": {"signal": "datum.value === 'Negativas (d.)' ? '#c8a882' : datum.value === 'Neutrales (d.)' ? '#e6c888' : datum.value === 'Positivas (d.)' ? '#f3e5c2' : 'transparent'"},
                      "stroke": {"signal": "datum.value === 'Crecimiento (i.)⁵' ? '#cc2229' : '#4d4d4d'"},
                      "strokeWidth": {"signal": "datum.value === 'Crecimiento (i.)⁵' ? 5 : 1"},
                      "opacity": {"value": 1}}}}}},
                "order": {"field": "serie", "sort": "descending"}
              }
            },
            {
              "data": {"name": "p3l"},
              "mark": {"type": "line", "strokeWidth": 5, "strokeJoin": "round"},
              "encoding": {
                "x": {"field": "t", "type": "quantitative", "axis": null},
                "y": {"field": "valor", "type": "quantitative",
                  "scale": {"domain": [-60, 40], "nice": false, "zero": false},
                  "axis": {"orient": "left", "values": [-20, 0, 20], "domain": false, "ticks": false, "tickSize": 0, "labelAlign": "left", "labelPadding": -9, "labelBaseline": "alphabetic", "labelOffset": -8, "grid": false, "title": null}},
                "color": {"field": "serie", "type": "nominal"}
              }
            }
          ],
          "resolve": {"scale": {"y": "independent"}}
        }
      ],
      "spacing": 23,
      "bounds": "flush",
      "resolve": {"scale": {"color": "independent"}, "legend": {"color": "independent"}}
    },
    {
      "width": 986,
      "height": 230,
      "view": {"stroke": null},
      "layer": [
        {
          "data": {"values": [{}]},
          "mark": {"type": "rule", "color": "#4d4d4d", "strokeWidth": 1.2},
          "encoding": {"x": {"datum": 0, "type": "quantitative", "scale": {"domain": [0, 1], "nice": false, "zero": false}, "axis": null}}
        },
        {
          "data": {"name": "notas"},
          "transform": [{"filter": "datum.parte === 'inicio'"}],
          "mark": {"type": "text", "align": "left", "baseline": "middle", "dx": 23, "fontSize": 19.6, "color": "#231f20", "font": "Liberation Sans"},
          "encoding": {
            "x": {"datum": 0, "type": "quantitative", "axis": null},
            "y": {"field": "linea", "type": "quantitative", "scale": {"domain": [-0.074, 9.43], "reverse": true, "nice": false, "zero": false}, "axis": null},
            "text": {"field": "texto", "type": "nominal"}
          }
        },
        {
          "data": {"name": "notas"},
          "transform": [{"filter": "datum.parte === 'fin'"}],
          "mark": {"type": "text", "align": "right", "baseline": "middle", "dx": -13, "fontSize": 19.6, "color": "#231f20", "font": "Liberation Sans"},
          "encoding": {
            "x": {"datum": 1, "type": "quantitative", "axis": null},
            "y": {"field": "linea", "type": "quantitative", "axis": null},
            "text": {"field": "texto", "type": "nominal"}
          }
        }
      ]
    }
  ]
}
